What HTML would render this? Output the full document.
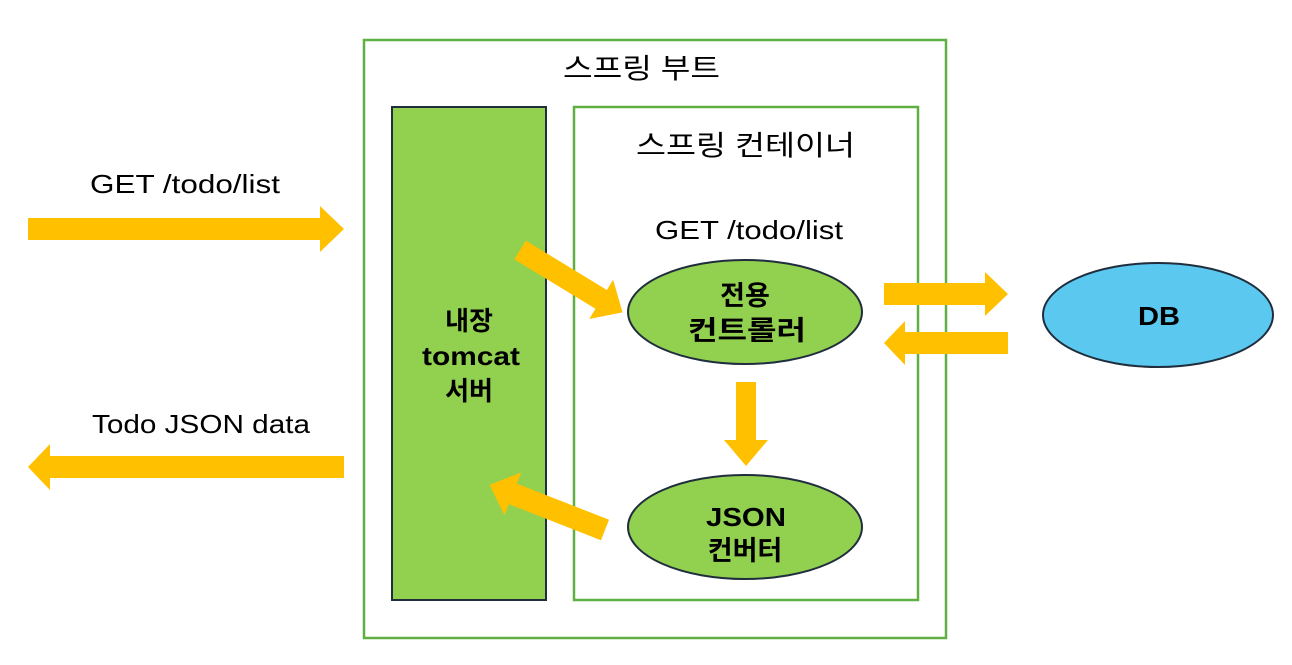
<!DOCTYPE html>
<html><head><meta charset="utf-8"><style>
html,body{margin:0;padding:0;background:#fff;}
svg{display:block;}
text{font-family:"Liberation Sans","Noto Sans CJK KR",sans-serif;}
</style></head><body>
<svg width="1292" height="665" viewBox="0 0 1292 665" xmlns="http://www.w3.org/2000/svg">
<rect x="364" y="40" width="582" height="598" fill="none" stroke="#5fb040" stroke-width="2.5"/>
<text x="563" y="78" font-size="28" textLength="157" lengthAdjust="spacingAndGlyphs">스프링 부트</text>
<rect x="392" y="107" width="154" height="493" fill="#92d050" stroke="#1f2d3d" stroke-width="2"/>
<rect x="574" y="107" width="344" height="493" fill="none" stroke="#5fb040" stroke-width="2.5"/>
<text x="636" y="155" font-size="28" textLength="219" lengthAdjust="spacingAndGlyphs">스프링 컨테이너</text>
<text x="655" y="239" font-size="26" textLength="188" lengthAdjust="spacingAndGlyphs">GET /todo/list</text>
<text x="469" y="330" font-size="26" font-weight="bold" text-anchor="middle">내장</text>
<text x="422" y="365" font-size="26" font-weight="bold" textLength="98" lengthAdjust="spacingAndGlyphs">tomcat</text>
<text x="469" y="400" font-size="26" font-weight="bold" text-anchor="middle">서버</text>
<ellipse cx="745" cy="312" rx="117" ry="52" fill="#92d050" stroke="#1f2d3d" stroke-width="2"/>
<text x="745" y="305" font-size="27" font-weight="bold" text-anchor="middle">전용</text>
<text x="688" y="340" font-size="27" font-weight="bold" textLength="118" lengthAdjust="spacingAndGlyphs">컨트롤러</text>
<ellipse cx="745" cy="527" rx="117" ry="52" fill="#92d050" stroke="#1f2d3d" stroke-width="2"/>
<text x="706" y="526" font-size="26" font-weight="bold" textLength="80" lengthAdjust="spacingAndGlyphs">JSON</text>
<text x="745" y="560" font-size="27" font-weight="bold" text-anchor="middle">컨버터</text>
<ellipse cx="1158" cy="315" rx="115" ry="52" fill="#5bc8f0" stroke="#1f2d3d" stroke-width="2"/>
<text x="1138" y="325" font-size="26" font-weight="bold" textLength="42" lengthAdjust="spacingAndGlyphs">DB</text>
<text x="90" y="193" font-size="26" textLength="190" lengthAdjust="spacingAndGlyphs">GET /todo/list</text>
<text x="92" y="433" font-size="26" textLength="218" lengthAdjust="spacingAndGlyphs">Todo JSON data</text>
<g fill="#ffc000">
<polygon points="28,218 320,218 320,206 344,229 320,252 320,240 28,240"/>
<polygon points="344,456 50,456 50,444 28,467 50,490 50,478 344,478"/>
<polygon points="884,283 985,283 985,272 1008,294 985,316 985,305 884,305"/>
<polygon points="1008,332 905,332 905,321 884,343 905,365 905,354 1008,354"/>
<polygon points="736,382 756,382 756,440 768,440 746,466 724,440 736,440"/>
<g transform="translate(520,250) rotate(31.3)"><polygon points="0,-11 95,-11 95,-23 120,0 95,23 95,11 0,11"/></g>
<g transform="translate(605,530) rotate(201.4)"><polygon points="0,-11 99,-11 99,-23 124,0 99,23 99,11 0,11"/></g>
</g>
</svg>
</body></html>
